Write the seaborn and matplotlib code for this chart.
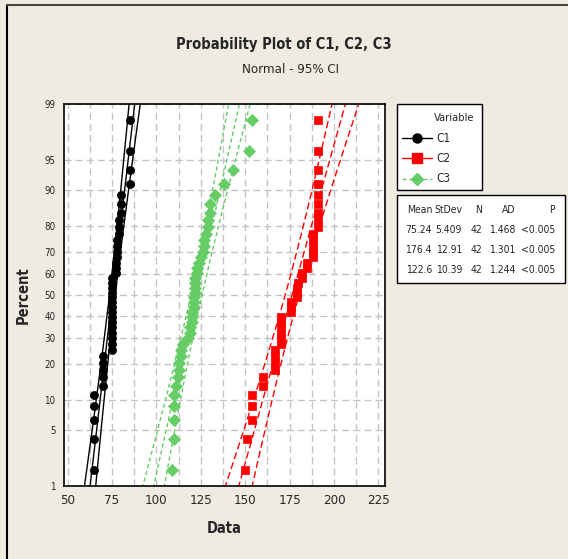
from statistics import NormalDist

import numpy as np
import pandas as pd
import matplotlib
matplotlib.use("Agg")
import matplotlib.pyplot as plt
import seaborn as sns
from matplotlib.lines import Line2D
from matplotlib.patches import Rectangle
from matplotlib.ticker import MultipleLocator

# values (sorted, 42 per column)
c1 = [65, 65, 65, 65, 65, 70, 70, 70, 70, 70,
      75, 75, 75, 75, 75, 75, 75, 75, 75, 75, 75, 75, 75, 75, 75,
      77, 77, 77, 78, 78, 78, 78, 79, 79, 79, 80, 80, 80,
      85, 85, 85, 85]
c2 = [150, 151, 154, 154, 154, 160, 160, 167, 167, 167, 167,
      170, 170, 170, 170, 170, 170, 176, 176, 176,
      179, 179, 179, 180, 182, 182, 185, 185,
      188, 188, 188, 188, 188,
      191, 191, 191, 191, 191, 191, 191, 191, 191]
c3 = [109, 110, 110, 110, 110, 111, 112, 113, 113, 114, 114, 115,
      118, 119, 119, 120, 120, 120, 121, 121, 121,
      122, 122, 122, 122, 123, 123, 124, 125, 126, 127, 127, 128,
      129, 129, 130, 130, 133, 138, 143, 152, 154]

variables = ["C1", "C2", "C3"]
pct_ticks = [1, 5, 10, 20, 30, 40, 50, 60, 70, 80, 90, 95, 99]
x_ticks = [50, 75, 100, 125, 150, 175, 200, 225]

stat_header = ["Mean", "StDev", "N", "AD", "P"]
stat_rows = [
    ["75.24", "5.409", "42", "1.468", "<0.005"],
    ["176.4", "12.91", "42", "1.301", "<0.005"],
    ["122.6", "10.39", "42", "1.244", "<0.005"],
]

colors = {"C1": "black", "C2": "#FF0000", "C3": "#66CC66"}
markers = {"C1": "o", "C2": "s", "C3": "D"}
msize = {"C1": 34, "C2": 32, "C3": 38}
ci_style = {"C1": "-", "C2": (0, (5, 2.5)), "C3": (0, (3, 2))}

nd = NormalDist()
_ppf = np.vectorize(lambda p: nd.inv_cdf(p), otypes=[float])
_cdf = np.vectorize(lambda z: nd.cdf(z), otypes=[float])


def to_z(pct):
    p = np.clip(np.asarray(pct, dtype=float) / 100.0, 1e-9, 1 - 1e-9)
    return _ppf(p)


def to_pct(z):
    return _cdf(np.asarray(z, dtype=float)) * 100.0


# median ranks, as Minitab does
rows = []
for name, vals in zip(variables, [c1, c2, c3]):
    n = len(vals)
    for i, v in enumerate(sorted(vals), start=1):
        rows.append({"Variable": name, "Data": v, "Percent": 100 * (i - 0.3) / (n + 0.4)})
df = pd.DataFrame(rows)

sns.set_style("white")
plt.rcParams["font.family"] = ["DejaVu Sans"]
plt.rcParams["font.stretch"] = "condensed"

fig = plt.figure(figsize=(5.68, 5.59), dpi=100, facecolor="#EFEBE1")
ax = fig.add_axes([64 / 568, 1 - 486 / 559, (385 - 64) / 568, (486 - 104) / 559])
ax.set_facecolor("white")
ax.set_yscale("function", functions=(to_z, to_pct))

# fitted line and 95% CI for each column
zz = np.linspace(-2.6, 2.6, 200)
for name, vals in zip(variables, [c1, c2, c3]):
    arr = np.asarray(vals, dtype=float)
    n = len(arr)
    mu, sd = arr.mean(), arr.std(ddof=1)
    fit = mu + sd * zz
    hw = 1.96 * sd * np.sqrt(1 / n + zz ** 2 / (2 * n))
    for line in (fit, fit - hw, fit + hw):
        ax.plot(line, to_pct(zz), color=colors[name], ls=ci_style[name], lw=1.0, zorder=2)

for name in variables:
    sns.scatterplot(data=df[df["Variable"] == name], x="Data", y="Percent",
                    color=colors[name], marker=markers[name], s=msize[name],
                    edgecolor=colors[name], linewidth=0.5, legend=False, ax=ax, zorder=3)

ax.set_xlim(48, 228.7)
ax.set_ylim(1, 99)
ax.set_xticks(x_ticks)
ax.xaxis.set_minor_locator(MultipleLocator(12.5))
ax.set_yticks(pct_ticks)
ax.set_yticklabels([str(t) for t in pct_ticks])
ax.yaxis.set_minor_locator(plt.NullLocator())
ax.tick_params(axis="both", which="major", direction="out", length=4, width=1,
               labelsize=9.5, color="black", pad=2)
ax.tick_params(axis="y", labelsize=7)
ax.tick_params(axis="x", which="minor", length=0)
ax.grid(True, which="both", color="#C4C4C4", ls=(0, (5, 3)), lw=1.0, zorder=0)
ax.set_axisbelow(True)
for sp in ax.spines.values():
    sp.set_color("black")
    sp.set_linewidth(1.2)

ax.set_xlabel("Data", fontsize=10.5, fontweight="bold", labelpad=10)
ax.set_ylabel("Percent", fontsize=10.5, fontweight="bold", labelpad=10)

fig.text(284 / 568, 1 - 45 / 559, "Probability Plot of C1, C2, C3",
         ha="center", va="center", fontsize=10.5, fontweight="bold")
fig.text(291 / 568, 1 - 70 / 559, "Normal - 95% CI", ha="center", va="center", fontsize=9.5)

# frame lines of the graph window
fig.add_artist(Line2D([7 / 568, 7 / 568], [0, 1 - 5 / 559], color="black", lw=1.5))
fig.add_artist(Line2D([7 / 568, 1], [1 - 5 / 559, 1 - 5 / 559], color="#444444", lw=1.5))


def fx(px):
    return px / 568


def fy(py):
    return 1 - py / 559


# legend box
fig.add_artist(Rectangle((fx(397), fy(190)), fx(482) - fx(397), fy(104) - fy(190),
                         facecolor="white", edgecolor="black", lw=1.0))
fig.text(fx(454), fy(118), "Variable", ha="center", va="center", fontsize=8)
for name, yy in zip(variables, [138, 158, 179]):
    fig.add_artist(Line2D([fx(402), fx(432)], [fy(yy), fy(yy)], color=colors[name],
                          ls=ci_style[name] if name == "C3" else "-", lw=1.0))
    fig.add_artist(Line2D([fx(417)], [fy(yy)], color=colors[name], marker=markers[name],
                          markersize=6.5 if name != "C3" else 6, ls="none"))
    fig.text(fx(436), fy(yy), name, ha="left", va="center", fontsize=8.5)

# statistics table
fig.add_artist(Rectangle((fx(397), fy(283)), fx(565) - fx(397), fy(195) - fy(283),
                         facecolor="white", edgecolor="black", lw=1.0))
col_right = [432, 462, 482, 515, 555]
for j, h in enumerate(stat_header):
    fig.text(fx(col_right[j]), fy(210), h, ha="right", va="center", fontsize=7.5)
for r, row in enumerate(stat_rows):
    for j, val in enumerate(row):
        fig.text(fx(col_right[j]), fy(230 + 20 * r), val, ha="right", va="center", fontsize=7.5)

fig.savefig("out.png", dpi=100, facecolor=fig.get_facecolor())
